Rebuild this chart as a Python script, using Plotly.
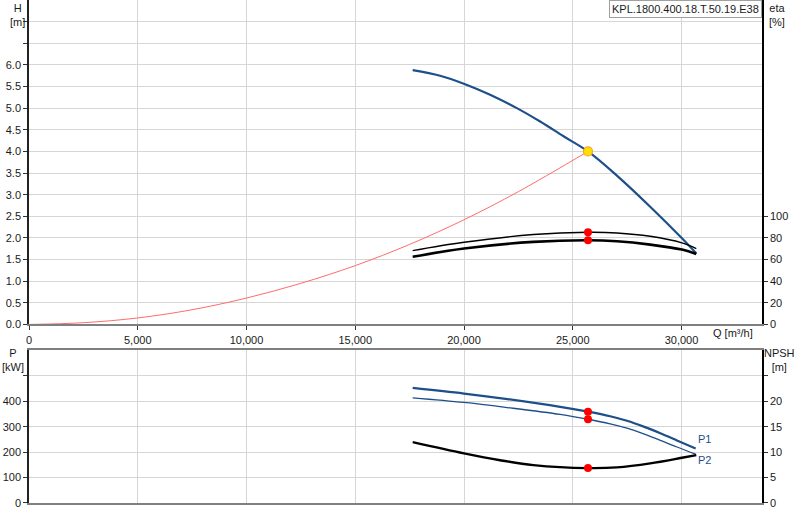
import plotly.graph_objects as go

# pump curve data
q_h = [17640, 18900, 20020, 21200, 22430, 23500, 24575, 25700, 27030, 28560, 30020, 30680]
h_pump = [5.88, 5.75, 5.56, 5.31, 5.0, 4.69, 4.35, 4.0, 3.44, 2.72, 1.99, 1.64]

q_sys = [0, 2500, 5000, 7500, 10000, 12500, 15000, 17500, 20000, 22500, 25700]
h_sys = [0, 0.04, 0.15, 0.34, 0.61, 0.95, 1.36, 1.85, 2.42, 3.07, 4.0]

q_eta = [17640, 20000, 23190, 25700, 27030, 28560, 30020, 30680]
eta_1 = [68.3, 76.0, 83.1, 85.2, 84.6, 81.5, 75.4, 70.2]
eta_2 = [62.5, 70.2, 76.3, 77.8, 76.9, 73.8, 69.2, 65.2]

q_p = [17640, 20000, 22000, 24420, 25700, 26720, 27490, 28260, 29025, 29790, 30650]
p1 = [452, 430, 408, 378, 359, 341, 323, 300, 274, 246, 214]
p2 = [413, 395, 375, 348, 329, 311, 294, 272, 246, 220, 192]

q_npsh = [17640, 20000, 21660, 23190, 25700, 27030, 28560, 30020, 30680]
npsh = [11.96, 9.75, 8.4, 7.45, 6.86, 7.0, 7.78, 8.88, 9.4]

q_op = 25700
h_op = 4.0
eta_op = [85.2, 77.8]
p_op = [359, 329]
npsh_op = 6.86

q_ticks = [0, 5000, 10000, 15000, 20000, 25000, 30000]
q_labels = ["0", "5,000", "10,000", "15,000", "20,000", "25,000", "30,000"]
h_ticks = [0, 0.5, 1, 1.5, 2, 2.5, 3, 3.5, 4, 4.5, 5, 5.5, 6, 6.5, 7]
h_labels = ["0.0", "0.5", "1.0", "1.5", "2.0", "2.5", "3.0", "3.5", "4.0", "4.5",
            "5.0", "5.5", "6.0", "", ""]
eta_ticks = [0, 20, 40, 60, 80, 100]
p_ticks = [0, 100, 200, 300, 400, 500]
p_labels = ["0", "100", "200", "300", "400", ""]
npsh_ticks = [0, 5, 10, 15, 20, 25]
npsh_labels = ["0", "5", "10", "15", "20", ""]

BLUE = "#1d4f8a"
GRID = "#d6d6d6"
FONT = dict(family="Liberation Sans, Arial, sans-serif", size=11, color="#1a1a1a")

fig = go.Figure()

fig.add_trace(go.Scatter(x=q_sys, y=h_sys, mode="lines", line=dict(color="#ff6b6b", width=1, shape="spline"),
                         xaxis="x", yaxis="y"))
fig.add_trace(go.Scatter(x=q_h, y=h_pump, mode="lines", line=dict(color=BLUE, width=2.2, shape="spline"),
                         xaxis="x", yaxis="y"))
fig.add_trace(go.Scatter(x=q_eta, y=eta_1, mode="lines", line=dict(color="black", width=1.4, shape="spline"),
                         xaxis="x", yaxis="y2"))
fig.add_trace(go.Scatter(x=q_eta, y=eta_2, mode="lines", line=dict(color="black", width=2.6, shape="spline"),
                         xaxis="x", yaxis="y2"))
fig.add_trace(go.Scatter(x=[q_op, q_op], y=eta_op, mode="markers",
                         marker=dict(color="#ff0000", size=8), xaxis="x", yaxis="y2"))
fig.add_trace(go.Scatter(x=[q_op], y=[h_op], mode="markers",
                         marker=dict(color="#ffe000", size=9, line=dict(color="#f5a623", width=1.2)),
                         xaxis="x", yaxis="y"))

fig.add_trace(go.Scatter(x=q_p, y=p1, mode="lines", line=dict(color=BLUE, width=2.2, shape="spline"),
                         xaxis="x2", yaxis="y3"))
fig.add_trace(go.Scatter(x=q_p, y=p2, mode="lines", line=dict(color=BLUE, width=1.3, shape="spline"),
                         xaxis="x2", yaxis="y3"))
fig.add_trace(go.Scatter(x=q_npsh, y=npsh, mode="lines", line=dict(color="black", width=2.4, shape="spline"),
                         xaxis="x2", yaxis="y4"))
fig.add_trace(go.Scatter(x=[q_op, q_op], y=p_op, mode="markers",
                         marker=dict(color="#ff0000", size=8), xaxis="x2", yaxis="y3"))
fig.add_trace(go.Scatter(x=[q_op], y=[npsh_op], mode="markers",
                         marker=dict(color="#ff0000", size=8), xaxis="x2", yaxis="y4"))

xcommon = dict(range=[0, 33700], tickvals=q_ticks, showgrid=True, gridcolor=GRID, gridwidth=1,
               zeroline=False, showline=True, linecolor="#7f7f7f", linewidth=2)

fig.update_layout(
    width=800, height=520,
    margin=dict(l=29, r=38, t=0, b=17),
    paper_bgcolor="white", plot_bgcolor="white",
    showlegend=False, font=FONT,
    xaxis=dict(xcommon, domain=[0, 1], anchor="y", ticktext=q_labels, ticks="outside",
               ticklen=4, tickcolor="#333"),
    yaxis=dict(domain=[0.355, 1], range=[0, 7.5], tickvals=h_ticks, ticktext=h_labels,
               showgrid=True, gridcolor=GRID, zeroline=False, showline=True, linecolor="#222",
               linewidth=1.5, ticks="outside", ticklen=4, tickcolor="#333"),
    yaxis2=dict(overlaying="y", side="right", anchor="x", range=[0, 300], tickvals=eta_ticks,
                showgrid=False, zeroline=False, showline=True, linecolor="black", linewidth=1.5,
                ticks="outside", ticklen=4, tickcolor="#333"),
    xaxis2=dict(xcommon, domain=[0, 1], anchor="y3", showticklabels=False, mirror=True),
    yaxis3=dict(domain=[0, 0.3036], range=[0, 600], tickvals=p_ticks, ticktext=p_labels,
                showgrid=True, gridcolor=GRID, zeroline=False, showline=True, linecolor="#222",
                linewidth=1.5, ticks="outside", ticklen=4, tickcolor="#333"),
    yaxis4=dict(overlaying="y3", side="right", anchor="x2", range=[0, 30], tickvals=npsh_ticks,
                ticktext=npsh_labels, showgrid=False, zeroline=False, showline=True,
                linecolor="black", linewidth=1.5, ticks="outside", ticklen=4, tickcolor="#333"),
)

def label(text, x, y, xanchor="center", yanchor="top"):
    fig.add_annotation(text=text, x=x, y=y, xref="paper", yref="paper", showarrow=False,
                       xanchor=xanchor, yanchor=yanchor, align="center", font=FONT)

label("H<br>[m]", -0.016, 1.0)
label("eta<br>[%]", 1.02, 1.0)
label("Q [m³/h]", 0.96, 0.338, yanchor="middle")
label("P<br>[kW]", -0.022, 0.315)
label("NPSH<br>[m]", 1.024, 0.315)

fig.add_annotation(text="KPL.1800.400.18.T.50.19.E38", x=1, y=1, xref="paper", yref="paper",
                   xanchor="right", yanchor="top", showarrow=False, font=FONT,
                   bgcolor="white", bordercolor="#a0a0a0", borderwidth=1, borderpad=2)

fig.add_annotation(text="P1", x=30650, y=252, xref="x2", yref="y3", showarrow=False,
                   xanchor="left", font=dict(FONT, color=BLUE))
fig.add_annotation(text="P2", x=30650, y=170, xref="x2", yref="y3", showarrow=False,
                   xanchor="left", font=dict(FONT, color=BLUE))

# page has a default body margin; drop it so the figure sits at the window origin
fig.write_html("out.html", config={"displayModeBar": False},
               post_script="document.body.style.margin='0';document.body.style.overflow='hidden';")
